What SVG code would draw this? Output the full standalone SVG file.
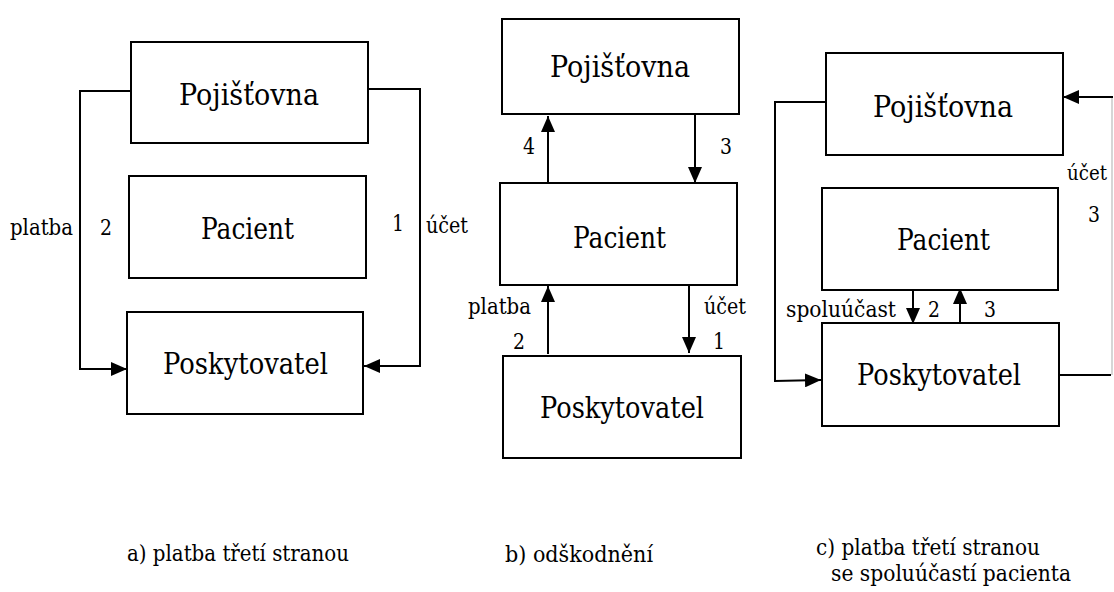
<svg xmlns="http://www.w3.org/2000/svg" width="1114" height="592" viewBox="0 0 1114 592">
<style>
text{font-family:"DejaVu Serif",serif;fill:#000}
.box{fill:#fff;stroke:#000;stroke-width:2}
.bt{font-size:29px}
.lb{font-size:23px}
.cp{font-size:23px}
.cn{fill:none;stroke:#000;stroke-width:2}
</style>
<defs>
<marker id="ah" markerUnits="userSpaceOnUse" markerWidth="16" markerHeight="14" viewBox="0 0 16 14" refX="16" refY="7" orient="auto">
<path d="M0,0 L16,7 L0,14 z" fill="#000"/>
</marker>
</defs>
<rect width="1114" height="592" fill="#fff"/>
<g id="connectors">
<polyline class="cn" points="131,91 80,91 80,369 127,369" marker-end="url(#ah)"/>
<polyline class="cn" points="369,89 420,89 420,366 364,366" marker-end="url(#ah)"/>
<line class="cn" x1="548" y1="183" x2="548" y2="116" marker-end="url(#ah)"/>
<line class="cn" x1="695" y1="115" x2="695" y2="183" marker-end="url(#ah)"/>
<line class="cn" x1="548" y1="354" x2="548" y2="286" marker-end="url(#ah)"/>
<line class="cn" x1="689" y1="285" x2="689" y2="353" marker-end="url(#ah)"/>
<polyline class="cn" points="826,102 775,102 775,381 821,380" marker-end="url(#ah)"/>
<line x1="1112" y1="97" x2="1112" y2="375" stroke="#c8c8c8" stroke-width="1.5"/>
<line class="cn" x1="1113" y1="97" x2="1063" y2="97" marker-end="url(#ah)"/>
<line class="cn" x1="1059" y1="375" x2="1111" y2="375"/>
<line class="cn" x1="913" y1="290" x2="913" y2="324" marker-end="url(#ah)"/>
<line class="cn" x1="960" y1="324" x2="960" y2="288" marker-end="url(#ah)"/>
</g>
<g id="a-pojistovna"><rect class="box" x="131" y="42" width="237" height="101"/><text class="bt" x="179" y="105" textLength="140" lengthAdjust="spacingAndGlyphs">Pojišťovna</text></g>
<g id="a-pacient"><rect class="box" x="129" y="176" width="237" height="102"/><text class="bt" x="201" y="239" textLength="93" lengthAdjust="spacingAndGlyphs">Pacient</text></g>
<g id="a-poskytovatel"><rect class="box" x="127" y="312" width="236" height="102"/><text class="bt" x="163" y="374" textLength="165" lengthAdjust="spacingAndGlyphs">Poskytovatel</text></g>
<g id="b-pojistovna"><rect class="box" x="502" y="19" width="237" height="95"/><text class="bt" x="550" y="77" textLength="140" lengthAdjust="spacingAndGlyphs">Pojišťovna</text></g>
<g id="b-pacient"><rect class="box" x="500" y="183" width="237" height="102"/><text class="bt" x="573" y="248" textLength="93" lengthAdjust="spacingAndGlyphs">Pacient</text></g>
<g id="b-poskytovatel"><rect class="box" x="503" y="356" width="238" height="102"/><text class="bt" x="540" y="418" textLength="164" lengthAdjust="spacingAndGlyphs">Poskytovatel</text></g>
<g id="c-pojistovna"><rect class="box" x="826" y="53" width="237" height="102"/><text class="bt" x="873" y="117" textLength="140" lengthAdjust="spacingAndGlyphs">Pojišťovna</text></g>
<g id="c-pacient"><rect class="box" x="822" y="188" width="236" height="102"/><text class="bt" x="897" y="250" textLength="93" lengthAdjust="spacingAndGlyphs">Pacient</text></g>
<g id="c-poskytovatel"><rect class="box" x="822" y="323" width="237" height="103"/><text class="bt" x="857" y="385" textLength="164" lengthAdjust="spacingAndGlyphs">Poskytovatel</text></g>
<g id="labels">
<text class="lb" x="10" y="235" textLength="63" lengthAdjust="spacingAndGlyphs">platba</text>
<text class="lb" x="100" y="235" textLength="12" lengthAdjust="spacingAndGlyphs">2</text>
<text class="lb" x="392" y="231" textLength="12" lengthAdjust="spacingAndGlyphs">1</text>
<text class="lb" x="426" y="233" textLength="42" lengthAdjust="spacingAndGlyphs">účet</text>
<text class="lb" x="523" y="154" textLength="12" lengthAdjust="spacingAndGlyphs">4</text>
<text class="lb" x="720" y="154" textLength="12" lengthAdjust="spacingAndGlyphs">3</text>
<text class="lb" x="468" y="314" textLength="63" lengthAdjust="spacingAndGlyphs">platba</text>
<text class="lb" x="513" y="349" textLength="12" lengthAdjust="spacingAndGlyphs">2</text>
<text class="lb" x="704" y="314" textLength="42" lengthAdjust="spacingAndGlyphs">účet</text>
<text class="lb" x="713" y="349" textLength="12" lengthAdjust="spacingAndGlyphs">1</text>
<text class="lb" x="1067" y="180" style="font-size:20px" textLength="40" lengthAdjust="spacingAndGlyphs">účet</text>
<text class="lb" x="1088" y="222" textLength="12" lengthAdjust="spacingAndGlyphs">3</text>
<text class="lb" x="786" y="317" textLength="110" lengthAdjust="spacingAndGlyphs">spoluúčast</text>
<text class="lb" x="928" y="317" textLength="12" lengthAdjust="spacingAndGlyphs">2</text>
<text class="lb" x="984" y="317" textLength="12" lengthAdjust="spacingAndGlyphs">3</text>
</g>
<g id="captions">
<text class="cp" x="127" y="561" textLength="222" lengthAdjust="spacingAndGlyphs">a) platba třetí stranou</text>
<text class="cp" x="505" y="562" textLength="148" lengthAdjust="spacingAndGlyphs">b) odškodnění</text>
<text class="cp" x="816" y="555" textLength="224" lengthAdjust="spacingAndGlyphs">c) platba třetí stranou</text>
<text class="cp" x="831" y="581" textLength="240" lengthAdjust="spacingAndGlyphs">se spoluúčastí pacienta</text>
</g>
</svg>
